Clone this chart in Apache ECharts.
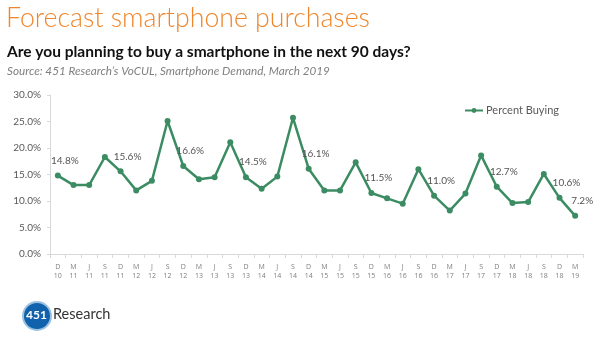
<!DOCTYPE html>
<html><head><meta charset="utf-8">
<script src="https://cdn.jsdelivr.net/npm/echarts@6/dist/echarts.min.js"></script>
<style>html,body{margin:0;padding:0;background:#fff}#c{width:600px;height:340px}</style>
</head><body><div id="c"></div>
<script>
var months = ['D','M','J','S','D','M','J','S','D','M','J','S','D','M','J','S','D','M','J','S','D','M','J','S','D','M','J','S','D','M','J','S','D','M'];
var years  = ['10','11','11','11','11','12','12','12','12','13','13','13','13','14','14','14','14','15','15','15','15','16','16','16','16','17','17','17','17','18','18','18','18','19'];
var percentBuying = [14.8,13.0,13.0,18.3,15.6,12.0,13.8,25.1,16.6,14.1,14.5,21.1,14.5,12.3,14.6,25.7,16.1,12.0,12.0,17.3,11.5,10.5,9.5,16.0,11.0,8.2,11.4,18.6,12.7,9.6,9.8,15.1,10.6,7.2];
var labelled = [0,4,8,12,16,20,24,28,32,33];
var yTicks = [0,5,10,15,20,25,30];

var categories = months.map(function(m,i){return m+'\n'+years[i];});
var green = '#3c8c63';
var seriesData = percentBuying.map(function(v,i){
  var o = {value: v};
  if (labelled.indexOf(i) >= 0) {
    o.label = {show: true, position: 'top', offset: [7, -2], formatter: function(p){return p.value.toFixed(1)+'%';},
      color: '#555', fontSize: 10, fontFamily: 'Lato'};
  }
  return o;
});

var chart = echarts.init(document.getElementById('c'), null, {renderer:'canvas'});
chart.setOption({
  animation: false,
  title: [
    {text: 'Forecast smartphone purchases', left: 1, top: 0,
     textStyle: {color: '#F0862B', fontSize: 26.7, fontWeight: 300, fontFamily: 'Lato'}},
    {text: 'Are you planning to buy a smartphone in the next 90 days?', left: 2, top: 39,
     textStyle: {color: '#111', fontSize: 15.5, fontWeight: 'bold', fontFamily: 'Lato'}},
    {text: "Source: 451 Research\u2019s VoCUL, Smartphone Demand, March 2019", left: 2, top: 60,
     textStyle: {color: '#808080', fontSize: 11.7, fontStyle: 'italic', fontWeight: 'normal', fontFamily: 'Lato'}}
  ],
  legend: {
    right: 36, top: 100, itemWidth: 18, itemHeight: 6, itemGap: 4,
    textStyle: {color: '#595959', fontSize: 11, fontFamily: 'Lato', padding: [0,0,0,-2]},
    data: ['Percent Buying']
  },
  grid: {left: 50, right: 17, top: 95, bottom: 86, containLabel: false},
  xAxis: {
    type: 'category', data: categories, boundaryGap: true,
    axisLine: {lineStyle: {color: '#d9d9d9'}},
    axisTick: {show: true, lineStyle: {color: '#d9d9d9'}, length: 4},
    axisLabel: {color: '#7f7f7f', fontSize: 7, lineHeight: 9, interval: 0, margin: 8, fontFamily: 'Open Sans'}
  },
  yAxis: {
    type: 'value', min: yTicks[0], max: yTicks[yTicks.length-1], interval: 5,
    axisLine: {show: true, lineStyle: {color: '#d9d9d9'}},
    axisTick: {show: true, lineStyle: {color: '#d9d9d9'}, length: 3},
    splitLine: {show: false},
    axisLabel: {color: '#595959', fontSize: 10, margin: 9, fontFamily: 'Lato',
      formatter: function(v){return v.toFixed(1)+'%';}}
  },
  series: [{
    name: 'Percent Buying', type: 'line', data: seriesData,
    symbol: 'circle', symbolSize: 6,
    lineStyle: {color: green, width: 2.5},
    itemStyle: {color: green}
  }],
  graphic: [
    {type: 'circle', shape: {cx: 37, cy: 316, r: 15}, style: {fill: '#9cc1e0'}},
    {type: 'circle', shape: {cx: 37, cy: 316, r: 13}, style: {fill: '#0f62ab'}},
    {type: 'text', left: 26, top: 309, style: {text: '451', fill: '#fff', fontSize: 12, fontWeight: 'bold', fontFamily: 'Lato'}},
    {type: 'text', left: 53, top: 307, style: {text: 'Research', fill: '#333', fontSize: 14.5, fontFamily: 'Lato'}}
  ]
});
</script></body></html>
